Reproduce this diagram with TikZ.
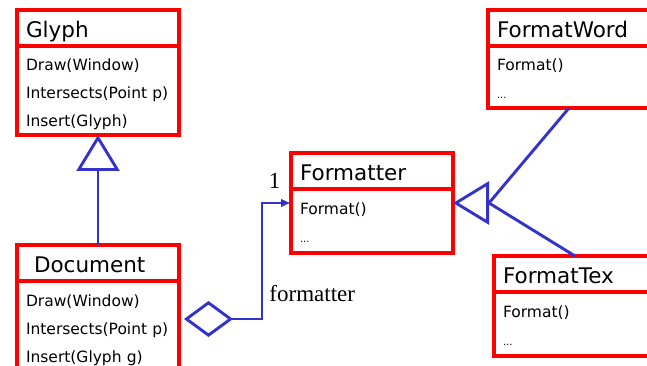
\documentclass[tikz,border=0pt]{standalone}
\usepackage{fontspec}
\usepackage{tikz}
\usetikzlibrary{arrows.meta, calc, positioning}
\newfontfamily\classfont{DejaVu Sans}
\newfontfamily\rolefont{Liberation Serif}
\definecolor{umlred}{rgb}{1, 0, 0}
\definecolor{umlblue}{rgb}{0.2, 0.2, 0.8}
\tikzstyle{classname} = [anchor=north west, draw=umlred, line width=3.2pt, outer sep=0pt, minimum width=162pt, minimum height=36pt, text width=144pt, inner xsep=9pt, inner ysep=0pt, text height=19pt, text depth=0pt, align=left, font=\classfont\fontsize{21.5}{24}\selectfont]
\tikzstyle{classbody} = [draw=umlred, line width=3.2pt, outer sep=0pt, minimum width=162pt, text width=144pt, inner xsep=9pt, inner ysep=0pt, text height=25pt, text depth=64pt, align=left, font=\classfont\fontsize{15.5}{28}\selectfont]
\tikzstyle{link} = [draw=umlblue, line width=2.9pt]
\tikzstyle{inherit} = [link, -{Triangle[open, length=36pt, width=43pt]}]
\tikzstyle{role} = [inner sep=0pt, anchor=base west, font=\rolefont\fontsize{23}{26}\selectfont]

\begin{document}
\begin{tikzpicture}[x=1pt, y=-1pt]
\clip (0,0) rectangle (647,366);
\fill[white] (0,0) rectangle (647,366);

% classes: name box with the operations box below it
\node[classname] (glyph) at (17,10) {Glyph};
\node[classbody, below=0pt of glyph] (glyphbody) {Draw(Window)\\Intersects(Point p)\\Insert(Glyph)};

\node[classname] (document) at (17,245) {\hspace*{8pt}Document};
\node[classbody, below=0pt of document] (docbody) {Draw(Window)\\Intersects(Point p)\\Insert(Glyph g)};

\node[classname] (formatter) at (291,153) {Formatter};
\node[classbody, text depth=39pt, below=0pt of formatter] (fmtbody) {Format()\\{\fontsize{10}{28}\selectfont...}};

\node[classname] (fword) at (488,10) {FormatWord};
\node[classbody, text depth=37pt, below=0pt of fword] (fwordbody) {Format()\\{\fontsize{10}{28}\selectfont...}};

\node[classname] (ftex) at (494,256) {FormatTex};
\node[classbody, text depth=39pt, below=0pt of ftex] (ftexbody) {Format()\\{\fontsize{10}{28}\selectfont...}};

% Document is a Glyph
\draw[inherit] (document.north) -- (glyphbody.south);

% the two formatters share one triangle
\coordinate (fmtapex) at ($(formatter.north east)!.5!(fmtbody.south east)$);
\coordinate (genbase) at ($(fmtapex)+(36,0)$);
\draw[link] (fwordbody.south) -- (genbase);
\draw[link] (ftex.north) -- (genbase);
\draw[inherit] (genbase) -- (fmtapex);

% Document holds one Formatter
\coordinate (fmtwest) at ($(formatter.north west)!.5!(fmtbody.south west)$);
\coordinate (aggtip) at ([xshift=5pt, yshift=6.5pt]docbody.east);
\draw[link, {Diamond[open, length=49pt, width=36pt]}-{Latex[length=10pt, width=9pt]}]
  (aggtip) -- ++(78,0) |- node[role, pos=0, xshift=6pt, yshift=18pt] {formatter}
  node[role, pos=.5, xshift=5.5pt, yshift=14pt] {1} (fmtwest);
\end{tikzpicture}
\end{document}
